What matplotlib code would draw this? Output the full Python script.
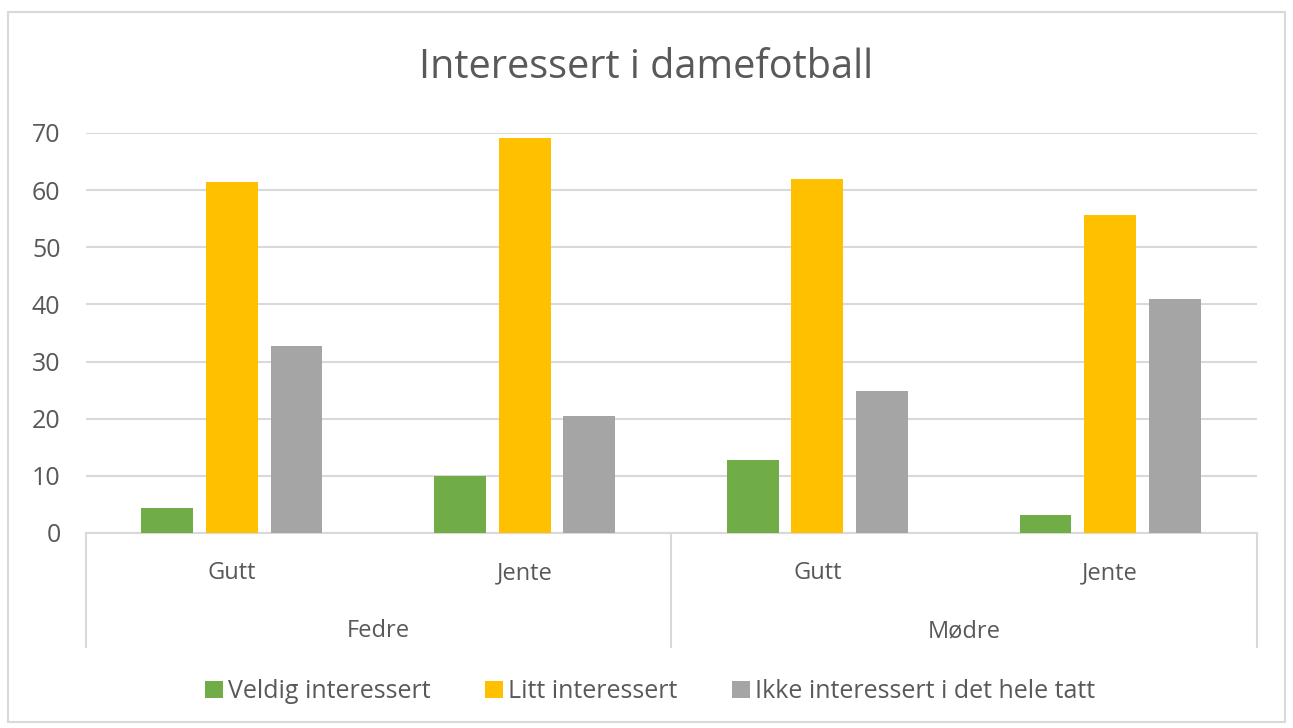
import matplotlib
matplotlib.use("Agg")
import matplotlib.pyplot as plt
import matplotlib.transforms as mtransforms
from matplotlib.patches import Rectangle
import numpy as np

title = "Interessert i damefotball"
groups = ["Fedre", "Mødre"]
subcats = ["Gutt", "Jente", "Gutt", "Jente"]
series_names = ["Veldig interessert", "Litt interessert", "Ikke interessert i det hele tatt"]
veldig = [4.3, 10.0, 12.8, 3.2]
litt = [61.5, 69.2, 62.0, 55.7]
ikke = [32.8, 20.5, 24.8, 41.0]
colors = ["#70AD47", "#FFC000", "#A5A5A5"]
yticks = [0, 10, 20, 30, 40, 50, 60, 70]

plt.rcParams['font.family'] = ['Open Sans', 'DejaVu Sans']
txt = "#595959"
grid = "#D9D9D9"
fs = 17

fig = plt.figure(figsize=(12.93, 7.28), dpi=100)
fig.patch.set_facecolor("white")
fig.patches.append(Rectangle((8/1293, 1-722/728), (1285-8)/1293, (722-12)/728,
                             transform=fig.transFigure, fill=False,
                             edgecolor="#D9D9D9", linewidth=1.5))

ax = fig.add_axes([85.5/1293, 1-533/728, (1256.5-85.5)/1293, 400/728])
x = np.arange(len(subcats))
w = 0.177
step = 0.221
for i, (vals, c, name) in enumerate(zip([veldig, litt, ikke], colors, series_names)):
    ax.bar(x + (i-1)*step, vals, width=w, color=c, label=name, zorder=3)

ax.set_xlim(-0.5, len(subcats)-0.5)
ax.set_ylim(0, 70)
ax.set_yticks(yticks)
ax.set_yticklabels([str(t) for t in yticks], fontsize=18, color=txt)
ax.tick_params(axis='y', length=0, pad=18)
ax.yaxis.grid(True, color=grid, linewidth=1.5, zorder=0)
for s in ["top", "right", "left"]:
    ax.spines[s].set_visible(False)
ax.spines["bottom"].set_color(grid)
ax.spines["bottom"].set_linewidth(1.5)
ax.set_xticks([])

trans = mtransforms.blended_transform_factory(ax.transData, ax.transAxes)
for xv in [-0.5, 1.5, 3.5]:
    ax.plot([xv, xv], [0, -0.285], transform=trans, color=grid, lw=1.5, clip_on=False)
for xi, lab in zip(x, subcats):
    ax.text(xi, -0.1, lab, transform=trans, ha='center', va='center', fontsize=fs, color=txt)
for gi, g in enumerate(groups):
    ax.text(gi*2 + 0.5, -0.245, g, transform=trans, ha='center', va='center', fontsize=fs, color=txt)

fig.text(0.5, 1-68/728, title, ha='center', va='center', fontsize=28.5, color=txt)

leg = fig.legend(loc='center', bbox_to_anchor=(650/1293, 1-692/728), ncol=3, frameon=False,
                 fontsize=18, handlelength=0.72, handleheight=0.64, handletextpad=0.18,
                 columnspacing=2.2, labelcolor=txt)

fig.savefig("out.png", dpi=100, facecolor="white")
